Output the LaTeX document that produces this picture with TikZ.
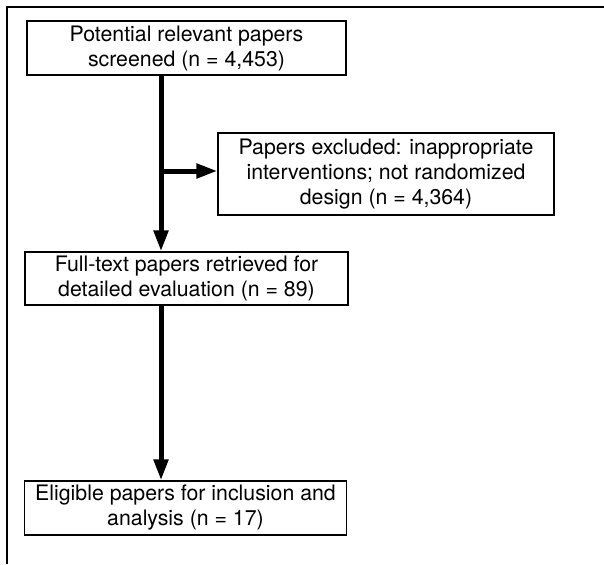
\documentclass[tikz,border=0pt]{standalone}
\usepackage{fontspec}
\setmainfont{TeX Gyre Heros}
\usetikzlibrary{arrows.meta}

\begin{document}
\begin{tikzpicture}[node distance=230.5pt]
    \tikzstyle{box} = [rectangle, align=center, inner sep=0pt, draw=black, line width=1.2pt, font=\fontsize{21.3}{25}\selectfont]
    \tikzstyle{trunk} = [line width=5pt]
    \tikzstyle{arrow} = [line width=5pt, -{Triangle[length=21pt, width=14pt]}]
    \tikzstyle{frame} = [line width=1.5pt]

            \useasboundingbox (0pt,0pt) rectangle (604pt,-564pt);

            % node[Optionen](Name){Inhalt}
            \node (Screened) [box, minimum width=319pt, minimum height=54pt] at (186.5pt,-48pt) {Potential relevant papers\\screened (n = 4,453)};
            \node (Excluded) [box, minimum width=336pt, minimum height=82pt, below of=Screened, xshift=199.5pt, yshift=104.5pt] {Papers excluded: inappropriate\\interventions; not randomized\\design (n = 4,364)};
            \node (Retrieved) [box, minimum width=323pt, minimum height=53pt, below of=Screened] {Full-text papers retrieved for\\detailed evaluation (n = 89)};
            \node (Eligible) [box, minimum width=322pt, minimum height=54pt, below of=Retrieved, xshift=-1pt, yshift=1pt] {Eligible papers for inclusion and\\analysis (n = 17)};

            \coordinate (Split) at ([xshift=-25.5pt, yshift=3pt]Screened.south |- Excluded.west);

            % ----- ----- ----- ----- ----- ----- ----- ----- ----- ----- ----- ----- ----- ----- ----- ----- ----- ----- -----

            \draw [frame] (7pt,-564pt) -- (7pt,-7pt) -- (604pt,-7pt);

            \draw [trunk] (Split |- Screened.south) -- (Split);
            \draw [arrow] (Split) -- ([yshift=3pt]Excluded.west);
            \draw [arrow] (Split) -- (Split |- Retrieved.north);
            \draw [arrow] (Split |- Retrieved.south) -- (Split |- Eligible.north);
\end{tikzpicture}
\end{document}
